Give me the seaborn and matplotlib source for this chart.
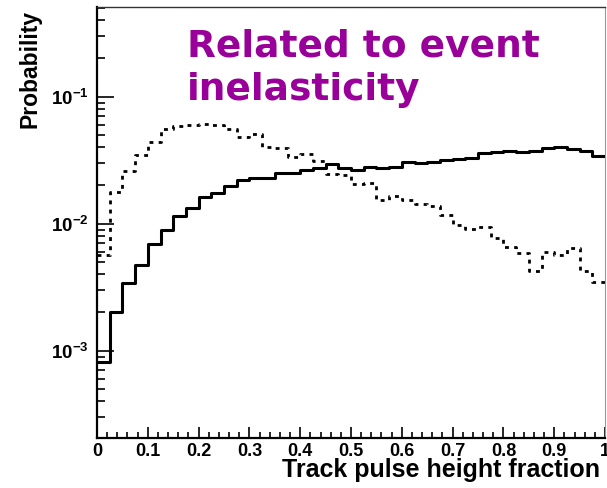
import numpy as np
import pandas as pd
import matplotlib
matplotlib.use("Agg")
import matplotlib.pyplot as plt
import seaborn as sns
from matplotlib.ticker import FixedLocator, NullFormatter, LogLocator, FixedFormatter, MultipleLocator

# ---- data ----
bin_edges = [round(i * 0.025, 3) for i in range(41)]
solid_vals = [0.00082, 0.00203, 0.00340, 0.00473, 0.00692, 0.00891, 0.01156, 0.0132,
              0.01615, 0.0173, 0.0198, 0.0221, 0.0230, 0.0230, 0.0252, 0.0252,
              0.0265, 0.0273, 0.0295, 0.0276, 0.0265, 0.0281, 0.0276, 0.0281,
              0.0308, 0.0298, 0.0308, 0.0318, 0.0323, 0.0331, 0.0358, 0.0369,
              0.0376, 0.0369, 0.0376, 0.0393, 0.0404, 0.0386, 0.0376, 0.0341]
dotted_vals = [0.0057, 0.0179, 0.0261, 0.0348, 0.0443, 0.0553, 0.0587, 0.0598,
               0.0610, 0.0598, 0.0553, 0.0484, 0.0506, 0.0404, 0.0393, 0.0337,
               0.0352, 0.0312, 0.0246, 0.0240, 0.0206, 0.0211, 0.0154, 0.0165,
               0.0154, 0.0143, 0.0138, 0.0117, 0.00977, 0.00904, 0.00946, 0.00776,
               0.00659, 0.00585, 0.00427, 0.00603, 0.00568, 0.00647, 0.00427, 0.00346]
x_ticks = [0, 0.1, 0.2, 0.3, 0.4, 0.5, 0.6, 0.7, 0.8, 0.9, 1.0]
x_tick_labels = ["0", "0.1", "0.2", "0.3", "0.4", "0.5", "0.6", "0.7", "0.8", "0.9", "1"]
y_ticks = [1e-3, 1e-2, 1e-1]
y_tick_labels = [r"$\mathbf{10^{-3}}$", r"$\mathbf{10^{-2}}$", r"$\mathbf{10^{-1}}$"]
title_lines = ["Related to event", "inelasticity"]
x_label = "Track pulse height fraction"
y_label = "Probability"

centers = [(bin_edges[i] + bin_edges[i + 1]) / 2 for i in range(40)]
df = pd.DataFrame({"x": centers, "solid": solid_vals, "dotted": dotted_vals})

sns.set_style("white")
plt.rcParams["font.family"] = ["Liberation Sans", "DejaVu Sans"]
plt.rcParams["mathtext.fontset"] = "custom"
plt.rcParams["mathtext.rm"] = "Liberation Sans"
plt.rcParams["mathtext.bf"] = "Liberation Sans:bold"
for key in ["text.color", "axes.labelcolor", "xtick.color", "ytick.color", "axes.edgecolor"]:
    plt.rcParams[key] = "black"

fig = plt.figure(figsize=(6.07, 4.88), dpi=100)
ax = fig.add_axes([97 / 607, 1 - 437.7 / 488, (605 - 97) / 607, (437.7 - 7.3) / 488])

sns.histplot(data=df, x="x", weights="dotted", bins=bin_edges, element="step", fill=False,
             color="black", linewidth=2.0, linestyle=(0, (1.4, 1.9)), ax=ax)
sns.histplot(data=df, x="x", weights="solid", bins=bin_edges, element="step", fill=False,
             color="black", linewidth=2.2, ax=ax)

ax.set_yscale("log")
ax.set_xlim(0, 1)
ax.set_ylim(2.065e-4, 0.506)

ax.xaxis.set_major_locator(FixedLocator(x_ticks))
ax.xaxis.set_major_formatter(FixedFormatter(x_tick_labels))
ax.xaxis.set_minor_locator(MultipleLocator(0.02))
ax.yaxis.set_major_locator(FixedLocator(y_ticks))
ax.yaxis.set_major_formatter(FixedFormatter(y_tick_labels))
ax.yaxis.set_minor_locator(LogLocator(base=10, subs=np.arange(2, 10)))
ax.yaxis.set_minor_formatter(NullFormatter())

ax.tick_params(axis="x", which="major", direction="in", length=8, width=1.2, pad=3.5,
               labelsize=13, bottom=True, top=False, labelcolor="black")
ax.tick_params(axis="x", which="minor", direction="in", length=4, width=1.2, bottom=True, top=False)
ax.tick_params(axis="y", which="major", direction="in", length=12, width=1.2, pad=6,
               labelsize=13.5, left=True, right=False, labelcolor="black")
ax.tick_params(axis="y", which="minor", direction="in", length=6, width=1.2, left=True, right=False)
for lab in ax.get_xticklabels() + ax.get_yticklabels():
    lab.set_fontweight("bold")

for side in ["left", "bottom"]:
    ax.spines[side].set_linewidth(1.6)
    ax.spines[side].set_color("black")
ax.spines["top"].set_linewidth(1.0)
ax.spines["top"].set_color("#333333")
ax.spines["right"].set_linewidth(0.8)
ax.spines["right"].set_color("#999999")

ax.set_xlabel("")
ax.set_ylabel("")
fig.text(600 / 607, 1 - 477 / 488, x_label, ha="right", va="baseline",
         fontsize=18, fontweight="bold", color="black")
fig.text(30 / 607, 1 - 10 / 488, y_label, rotation=90, ha="center", va="top",
         fontsize=16.5, fontweight="bold", color="black")

fig.text(187 / 607, 1 - 56.7 / 488, title_lines[0], ha="left", va="baseline",
         fontsize=27, fontweight="bold", color="#990099", family="DejaVu Sans")
fig.text(187 / 607, 1 - 100 / 488, title_lines[1], ha="left", va="baseline",
         fontsize=27, fontweight="bold", color="#990099", family="DejaVu Sans")

fig.savefig("out.png", dpi=100)
